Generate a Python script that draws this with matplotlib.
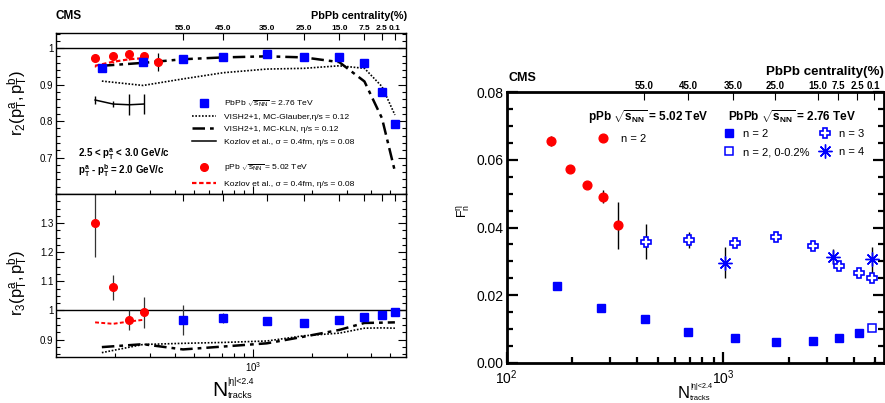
import numpy as np
import matplotlib
matplotlib.use('Agg')
import matplotlib.pyplot as plt
from matplotlib.ticker import LogLocator, NullFormatter, NullLocator, MultipleLocator

plt.rcParams['font.family'] = ['Liberation Sans', 'DejaVu Sans']
plt.rcParams['mathtext.fontset'] = 'custom'
plt.rcParams['mathtext.rm'] = 'Liberation Sans'
plt.rcParams['mathtext.it'] = 'Liberation Sans:italic'
plt.rcParams['mathtext.bf'] = 'Liberation Sans:bold'

# ---------------- data: left panel (factorization ratios) ----------------
cent_labels = ["55.0", "45.0", "35.0", "25.0", "15.0", "7.5", "2.5", "0.1"]

n_ppb = [158, 195, 236, 280, 328]
r2_ppb = [0.973, 0.980, 0.984, 0.979, 0.962]
r2_ppb_err = [0.0, 0.0, 0.0, 0.0, 0.024]
r3_ppb = [1.300, 1.079, 0.968, 0.993]
r3_ppb_err = [0.115, 0.044, 0.035, 0.052]

n_pbpb = [171, 277, 442, 709, 1178, 1820, 2750, 3690, 4530, 5270]
r2_pbpb = [0.945, 0.962, 0.970, 0.977, 0.984, 0.977, 0.975, 0.959, 0.879, 0.793]
r3_pbpb = [0.967, 0.974, 0.963, 0.956, 0.967, 0.979, 0.983, 0.996]   # from n_pbpb[2:]
r3_pbpb_err = [0.050, 0.018, 0.004, 0.003, 0.003, 0.003, 0.003, 0.003]

r2_glauber = [0.910, 0.898, 0.916, 0.933, 0.943, 0.945, 0.952, 0.945, 0.895, 0.817]
r2_kln = [0.952, 0.960, 0.970, 0.975, 0.978, 0.975, 0.962, 0.909, 0.808, 0.662]
r3_glauber = [0.855, 0.883, 0.887, 0.890, 0.895, 0.913, 0.922, 0.939, 0.940, 0.939]
r3_kln = [0.874, 0.884, 0.866, 0.876, 0.887, 0.910, 0.933, 0.957, 0.958, 0.959]

r2_kozlov_pbpb = [0.858, 0.847, 0.845, 0.847]
r2_kozlov_pbpb_err = [0.012, 0.009, 0.029, 0.027]
r2_kozlov_ppb = [0.952, 0.963, 0.970, 0.973]
r3_kozlov_ppb = [0.959, 0.954, 0.962, 0.968]

# ---------------- data: right panel (F_n^eta) ----------------
n_ppb_f = [160, 196, 235, 277, 325]
f2_ppb = [0.0657, 0.0572, 0.0526, 0.0491, 0.0406]
f2_ppb_err = [0.0015, 0.0005, 0.0005, 0.0019, 0.0070]

n_pbpb_f = [171, 273, 436, 689, 1135, 1741, 2600, 3428, 4226]
f2_pbpb = [0.0226, 0.0161, 0.01285, 0.0091, 0.0073, 0.0062, 0.0065, 0.0073, 0.0087]
n_ucc = [4860]
f2_ucc = [0.0104]

n_f3 = [438, 692, 1135, 1741, 2600, 3428, 4226, 4860]
f3_pbpb = [0.0358, 0.0363, 0.0353, 0.0373, 0.0346, 0.0287, 0.0266, 0.0251]
f3_pbpb_err = [0.0052, 0.0023, 0.0004, 0.0004, 0.0004, 0.0004, 0.0004, 0.0004]

n_f4 = [1014, 3213, 4860]
f4_pbpb = [0.0296, 0.0314, 0.0306]
f4_pbpb_err = [0.0046, 0.0022, 0.0037]

cent_n_right = [430, 687, 1110, 1730, 2735, 3380, 4140, 4920]

W, H = 885, 403
fig = plt.figure(figsize=(W / 100, H / 100), dpi=100)


def box(x0, y0, x1, y1):
    # pixel box -> figure fraction
    return [x0 / W, 1 - y1 / H, (x1 - x0) / W, (y1 - y0) / H]


def ftext(x, y, s, **kw):
    # text placed by pixel position
    return fig.text(x / W, 1 - y / H, s, **kw)


def style_log(ax, lw, mj, mn, fs, pad=2):
    ax.set_xscale('log')
    ax.xaxis.set_major_locator(LogLocator(base=10))
    ax.xaxis.set_minor_locator(LogLocator(base=10, subs=np.arange(2, 10)))
    ax.xaxis.set_minor_formatter(NullFormatter())
    ax.tick_params(which='both', direction='in', top=True, right=True, width=lw * 0.8)
    ax.tick_params(which='major', length=mj, labelsize=fs, pad=pad)
    ax.tick_params(which='minor', length=mn)
    for s in ax.spines.values():
        s.set_linewidth(lw)


def add_cent(ax, pos, labels, fs, ln, show=True):
    t = ax.twiny()
    t.set_xscale('log')
    t.set_xlim(ax.get_xlim())
    t.xaxis.set_minor_locator(NullLocator())
    t.set_xticks(pos)
    t.set_xticklabels(labels if show else [''] * len(pos))
    t.tick_params(axis='x', direction='in', length=ln, width=0.8, labelsize=fs, pad=1)
    for lbl in t.get_xticklabels():
        lbl.set_fontweight('bold')
    for s in t.spines.values():
        s.set_visible(False)
    return t


def ntracks_label(x, y_base, big, small):
    # N with stacked super/subscript, like the ROOT latex title
    ftext(x, y_base, "N", fontsize=big, va='baseline')
    dx = big * 1.389 * 0.74
    ftext(x + dx, y_base - big * 1.389 * 0.62, "|η|<2.4", fontsize=small, va='baseline')
    ftext(x + dx, y_base + big * 1.389 * 0.08, "tracks", fontsize=small * 1.05, va='baseline')


dotted = (0, (1, 1))
dashdot = (0, (5, 2, 1.5, 2))
reddash = (0, (2, 1.2))

# ================= left top: r2 =================
ax1 = fig.add_axes(box(56, 33, 406, 194))
style_log(ax1, 1.0, 6, 3, 7)
ax1.set_xlim(100, 6000)
ax1.set_ylim(0.6, 1.042)
ax1.axhline(1.0, color='k', lw=1)
ax1.yaxis.set_major_locator(MultipleLocator(0.1))
ax1.yaxis.set_minor_locator(MultipleLocator(0.02))
ax1.set_yticks([0.7, 0.8, 0.9, 1.0], ["0.7", "0.8", "0.9", "1"])
ax1.tick_params(axis='x', labelbottom=False)

h_gl, = ax1.plot(n_pbpb, r2_glauber, color='k', lw=1.2, ls=dotted,
                 label="VISH2+1, MC-Glauber,η/s = 0.12")
h_kln, = ax1.plot(n_pbpb, r2_kln, color='k', lw=1.8, ls=dashdot,
                  label="VISH2+1, MC-KLN, η/s = 0.12")
h_koz, = ax1.plot(n_ppb[:4], r2_kozlov_pbpb, color='k', lw=1.1,
                  label="Kozlov et al., σ = 0.4fm, η/s = 0.08")
ax1.errorbar(n_ppb[:4], r2_kozlov_pbpb, yerr=r2_kozlov_pbpb_err, fmt='none', ecolor='k', elinewidth=1)
h_kozp, = ax1.plot(n_ppb[:4], r2_kozlov_ppb, color='red', lw=1.6, ls=reddash,
                   label="Kozlov et al., σ = 0.4fm, η/s = 0.08")
ax1.errorbar(n_ppb[:4], r2_kozlov_ppb, yerr=0.003, fmt='none', ecolor='red', elinewidth=1)
ax1.errorbar(n_ppb, r2_ppb, yerr=r2_ppb_err, fmt='none', ecolor='k', elinewidth=0.9)
h_ppb, = ax1.plot(n_ppb, r2_ppb, 'o', color='red', ms=5.5, ls='none',
                  label=r"pPb $\sqrt{\mathrm{s_{NN}}}$ = 5.02 TeV")
h_pbpb, = ax1.plot(n_pbpb, r2_pbpb, 's', color='#0000ff', ms=5.2, ls='none',
                   label=r"PbPb $\sqrt{\mathrm{s_{NN}}}$ = 2.76 TeV")

leg1 = ax1.legend(handles=[h_pbpb, h_gl, h_kln, h_koz], loc='center left',
                  bbox_to_anchor=(0.388, 0.448), frameon=False, fontsize=6.1,
                  handlelength=2.9, handletextpad=0.9, labelspacing=0.5,
                  borderpad=0, borderaxespad=0)
ax1.add_artist(leg1)
ax1.legend(handles=[h_ppb, h_kozp], loc='center left',
           bbox_to_anchor=(0.388, 0.117), frameon=False, fontsize=6.1,
           handlelength=2.9, handletextpad=0.9, labelspacing=0.7,
           borderpad=0, borderaxespad=0)

ax1.text(0.063, 0.247, r"2.5 < $\mathbf{p_{T}^{a}}$ < 3.0 GeV/c", transform=ax1.transAxes,
         fontsize=7, fontweight='bold', va='center')
ax1.text(0.063, 0.145, r"$\mathbf{p_{T}^{a}}$ - $\mathbf{p_{T}^{b}}$ = 2.0 GeV/c", transform=ax1.transAxes,
         fontsize=7, fontweight='bold', va='center')
ax1.set_ylabel(r"$\mathrm{r_{2}(p_{T}^{a},p_{T}^{b})}$", fontsize=12)
ax1.yaxis.set_label_coords(-0.075, 0.568)
add_cent(ax1, n_pbpb[2:], cent_labels, 6, 5)

# ================= left bottom: r3 =================
ax2 = fig.add_axes(box(56, 194, 406, 357))
style_log(ax2, 1.0, 6, 3, 7)
ax2.set_xlim(100, 6000)
ax2.set_ylim(0.84, 1.40)
ax2.axhline(1.0, color='k', lw=1)
ax2.yaxis.set_major_locator(MultipleLocator(0.1))
ax2.yaxis.set_minor_locator(MultipleLocator(0.025))
ax2.set_yticks([0.9, 1.0, 1.1, 1.2, 1.3], ["0.9", "1", "1.1", "1.2", "1.3"])
ax2.set_xticks([1000], [r"$10^{3}$"])

ax2.plot(n_pbpb, r3_glauber, color='k', lw=1.2, ls=dotted)
ax2.plot(n_pbpb, r3_kln, color='k', lw=1.8, ls=dashdot)
ax2.plot(n_ppb[:4], r3_kozlov_ppb, color='red', lw=1.4, ls=reddash)
ax2.errorbar(n_ppb[:4], r3_ppb, yerr=r3_ppb_err, fmt='none', ecolor='#333333', elinewidth=0.9)
ax2.plot(n_ppb[:4], r3_ppb, 'o', color='red', ms=5.5, ls='none')
ax2.errorbar(n_pbpb[2:], r3_pbpb, yerr=r3_pbpb_err, fmt='none', ecolor='#333333', elinewidth=0.9)
ax2.plot(n_pbpb[2:], r3_pbpb, 's', color='#0000ff', ms=5.2, ls='none')

ax2.set_ylabel(r"$\mathrm{r_{3}(p_{T}^{a},p_{T}^{b})}$", fontsize=12)
ax2.yaxis.set_label_coords(-0.075, 0.457)
add_cent(ax2, n_pbpb[2:], cent_labels, 6, 5, show=False)
ntracks_label(212, 396.5, 15, 6.3)

ftext(55, 15.7, "CMS", fontsize=8.5, fontweight='bold', va='center')
ftext(406.7, 15.7, "PbPb centrality(%)", fontsize=7.8, fontweight='bold', va='center', ha='right')

# ================= right: F_n^eta =================
ax3 = fig.add_axes(box(506.7, 92.3, 884, 362.7))
style_log(ax3, 2.0, 8, 4, 10, pad=4)
ax3.tick_params(axis='y', pad=2)
ax3.set_xlim(100, 5500)
ax3.set_ylim(0, 0.08)
ax3.yaxis.set_major_locator(MultipleLocator(0.02))
ax3.yaxis.set_minor_locator(MultipleLocator(0.005))
ax3.set_yticks([0, 0.02, 0.04, 0.06, 0.08], ["0.00", "0.02", "0.04", "0.06", "0.08"])
ax3.set_xticks([100, 1000], [r"$10^{2}$", r"$10^{3}$"])

ax3.errorbar(n_ppb_f, f2_ppb, yerr=f2_ppb_err, fmt='none', ecolor='k', elinewidth=1)
hp2, = ax3.plot(n_ppb_f, f2_ppb, 'o', color='red', ms=6.3, ls='none', label="n = 2")
hb2, = ax3.plot(n_pbpb_f, f2_pbpb, 's', color='#0000ff', ms=5.5, ls='none', label="n = 2")
hbu, = ax3.plot(n_ucc, f2_ucc, 's', color='#0000ff', ms=6, mfc='none', mew=1.1, ls='none',
                label="n = 2, 0-0.2%")
ax3.errorbar(n_f3, f3_pbpb, yerr=f3_pbpb_err, fmt='none', ecolor='k', elinewidth=1)
hb3, = ax3.plot(n_f3, f3_pbpb, 'P', color='#0000ff', ms=7, mfc='white', mew=1.2, ls='none',
                label="n = 3")
ax3.errorbar(n_f4, f4_pbpb, yerr=f4_pbpb_err, fmt='none', ecolor='k', elinewidth=1)
hb4, = ax3.plot(n_f4, f4_pbpb, marker=(8, 2, 0), color='#0000ff', ms=10, mew=1.0, ls='none',
                label="n = 4")

leg3 = ax3.legend(handles=[hb2, hbu, hb3, hb4], loc='upper left',
                  bbox_to_anchor=(0.5745, 0.865), ncol=2, frameon=False, fontsize=8,
                  handlelength=1.0, handletextpad=0.75, labelspacing=0.75,
                  columnspacing=0.9, borderpad=0, borderaxespad=0)
ax3.add_artist(leg3)
ax3.legend(handles=[hp2], loc='center left', bbox_to_anchor=(0.2375, 0.827),
           frameon=False, fontsize=8, handlelength=1.2, handletextpad=1.0,
           borderpad=0, borderaxespad=0)

ftext(588, 116.7, r"pPb $\sqrt{\mathbf{s_{NN}}}$ = 5.02 TeV", fontsize=8.5, fontweight='bold', va='center')
ftext(728, 116.7, r"PbPb $\sqrt{\mathbf{s_{NN}}}$ = 2.76 TeV", fontsize=8.5, fontweight='bold', va='center')

ax3.set_ylabel(r"$\mathrm{F_{n}^{\eta}}$", fontsize=9)
ax3.yaxis.set_label_coords(-0.092, 0.56)
add_cent(ax3, cent_n_right, cent_labels, 7, 6)
ntracks_label(677.7, 398.5, 12, 5.2)

ftext(509, 78.3, "CMS", fontsize=9, fontweight='bold', va='center')
ftext(884, 71.7, "PbPb centrality(%)", fontsize=9.6, fontweight='bold', va='center', ha='right')

fig.savefig('out.png', dpi=100)
